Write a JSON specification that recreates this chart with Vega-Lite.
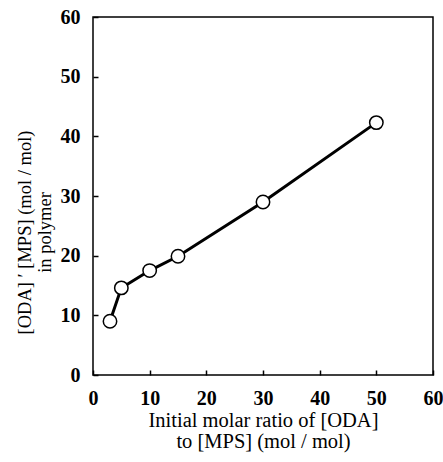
{
  "$schema": "https://vega.github.io/schema/vega-lite/v6.json",
  "autosize": "none",
  "width": 340,
  "height": 358,
  "padding": {"left": 93, "top": 17, "right": 10, "bottom": 87},
  "background": "white",
  "config": {
    "view": {"stroke": "black", "strokeWidth": 1.5},
    "axis": {
      "grid": false,
      "domain": false,
      "tickColor": "black",
      "tickSize": -5,
      "tickWidth": 1.5,
      "labelFont": "Liberation Serif",
      "labelFontWeight": "bold",
      "labelFontSize": 20,
      "labelColor": "black",
      "titleFont": "Liberation Serif",
      "titleFontWeight": "normal",
      "titleColor": "black"
    }
  },
  "data": {
    "values": [
      {"ratio": 3, "poly": 9.0},
      {"ratio": 5, "poly": 14.6},
      {"ratio": 10, "poly": 17.5},
      {"ratio": 15, "poly": 19.9},
      {"ratio": 30, "poly": 29.0},
      {"ratio": 50, "poly": 42.3}
    ]
  },
  "encoding": {
    "x": {
      "field": "ratio",
      "type": "quantitative",
      "scale": {"domain": [0, 60], "nice": false},
      "axis": {
        "values": [0, 10, 20, 30, 40, 50, 60],
        "labelPadding": 18,
        "labelFlush": false,
        "title": ["Initial molar ratio of [ODA]", "to [MPS]  (mol / mol)"],
        "titleFontSize": 20.5,
        "titleLineHeight": 21,
        "titleBaseline": "top",
        "titleY": 35
      }
    },
    "y": {
      "field": "poly",
      "type": "quantitative",
      "scale": {"domain": [0, 60], "nice": false},
      "axis": {
        "values": [0, 10, 20, 30, 40, 50, 60],
        "labelPadding": 18,
        "labelFlush": false,
        "title": ["[ODA] ′ [MPS] (mol / mol)", "in polymer"],
        "titleFontSize": 18.5,
        "titleLineHeight": 20,
        "titlePadding": 6,
        "titleY": 215
      }
    }
  },
  "layer": [
    {"mark": {"type": "line", "color": "black", "strokeWidth": 3}},
    {"mark": {"type": "point", "shape": "circle", "filled": true, "fill": "white", "stroke": "black", "strokeWidth": 1.5, "size": 180, "opacity": 1}}
  ]
}
